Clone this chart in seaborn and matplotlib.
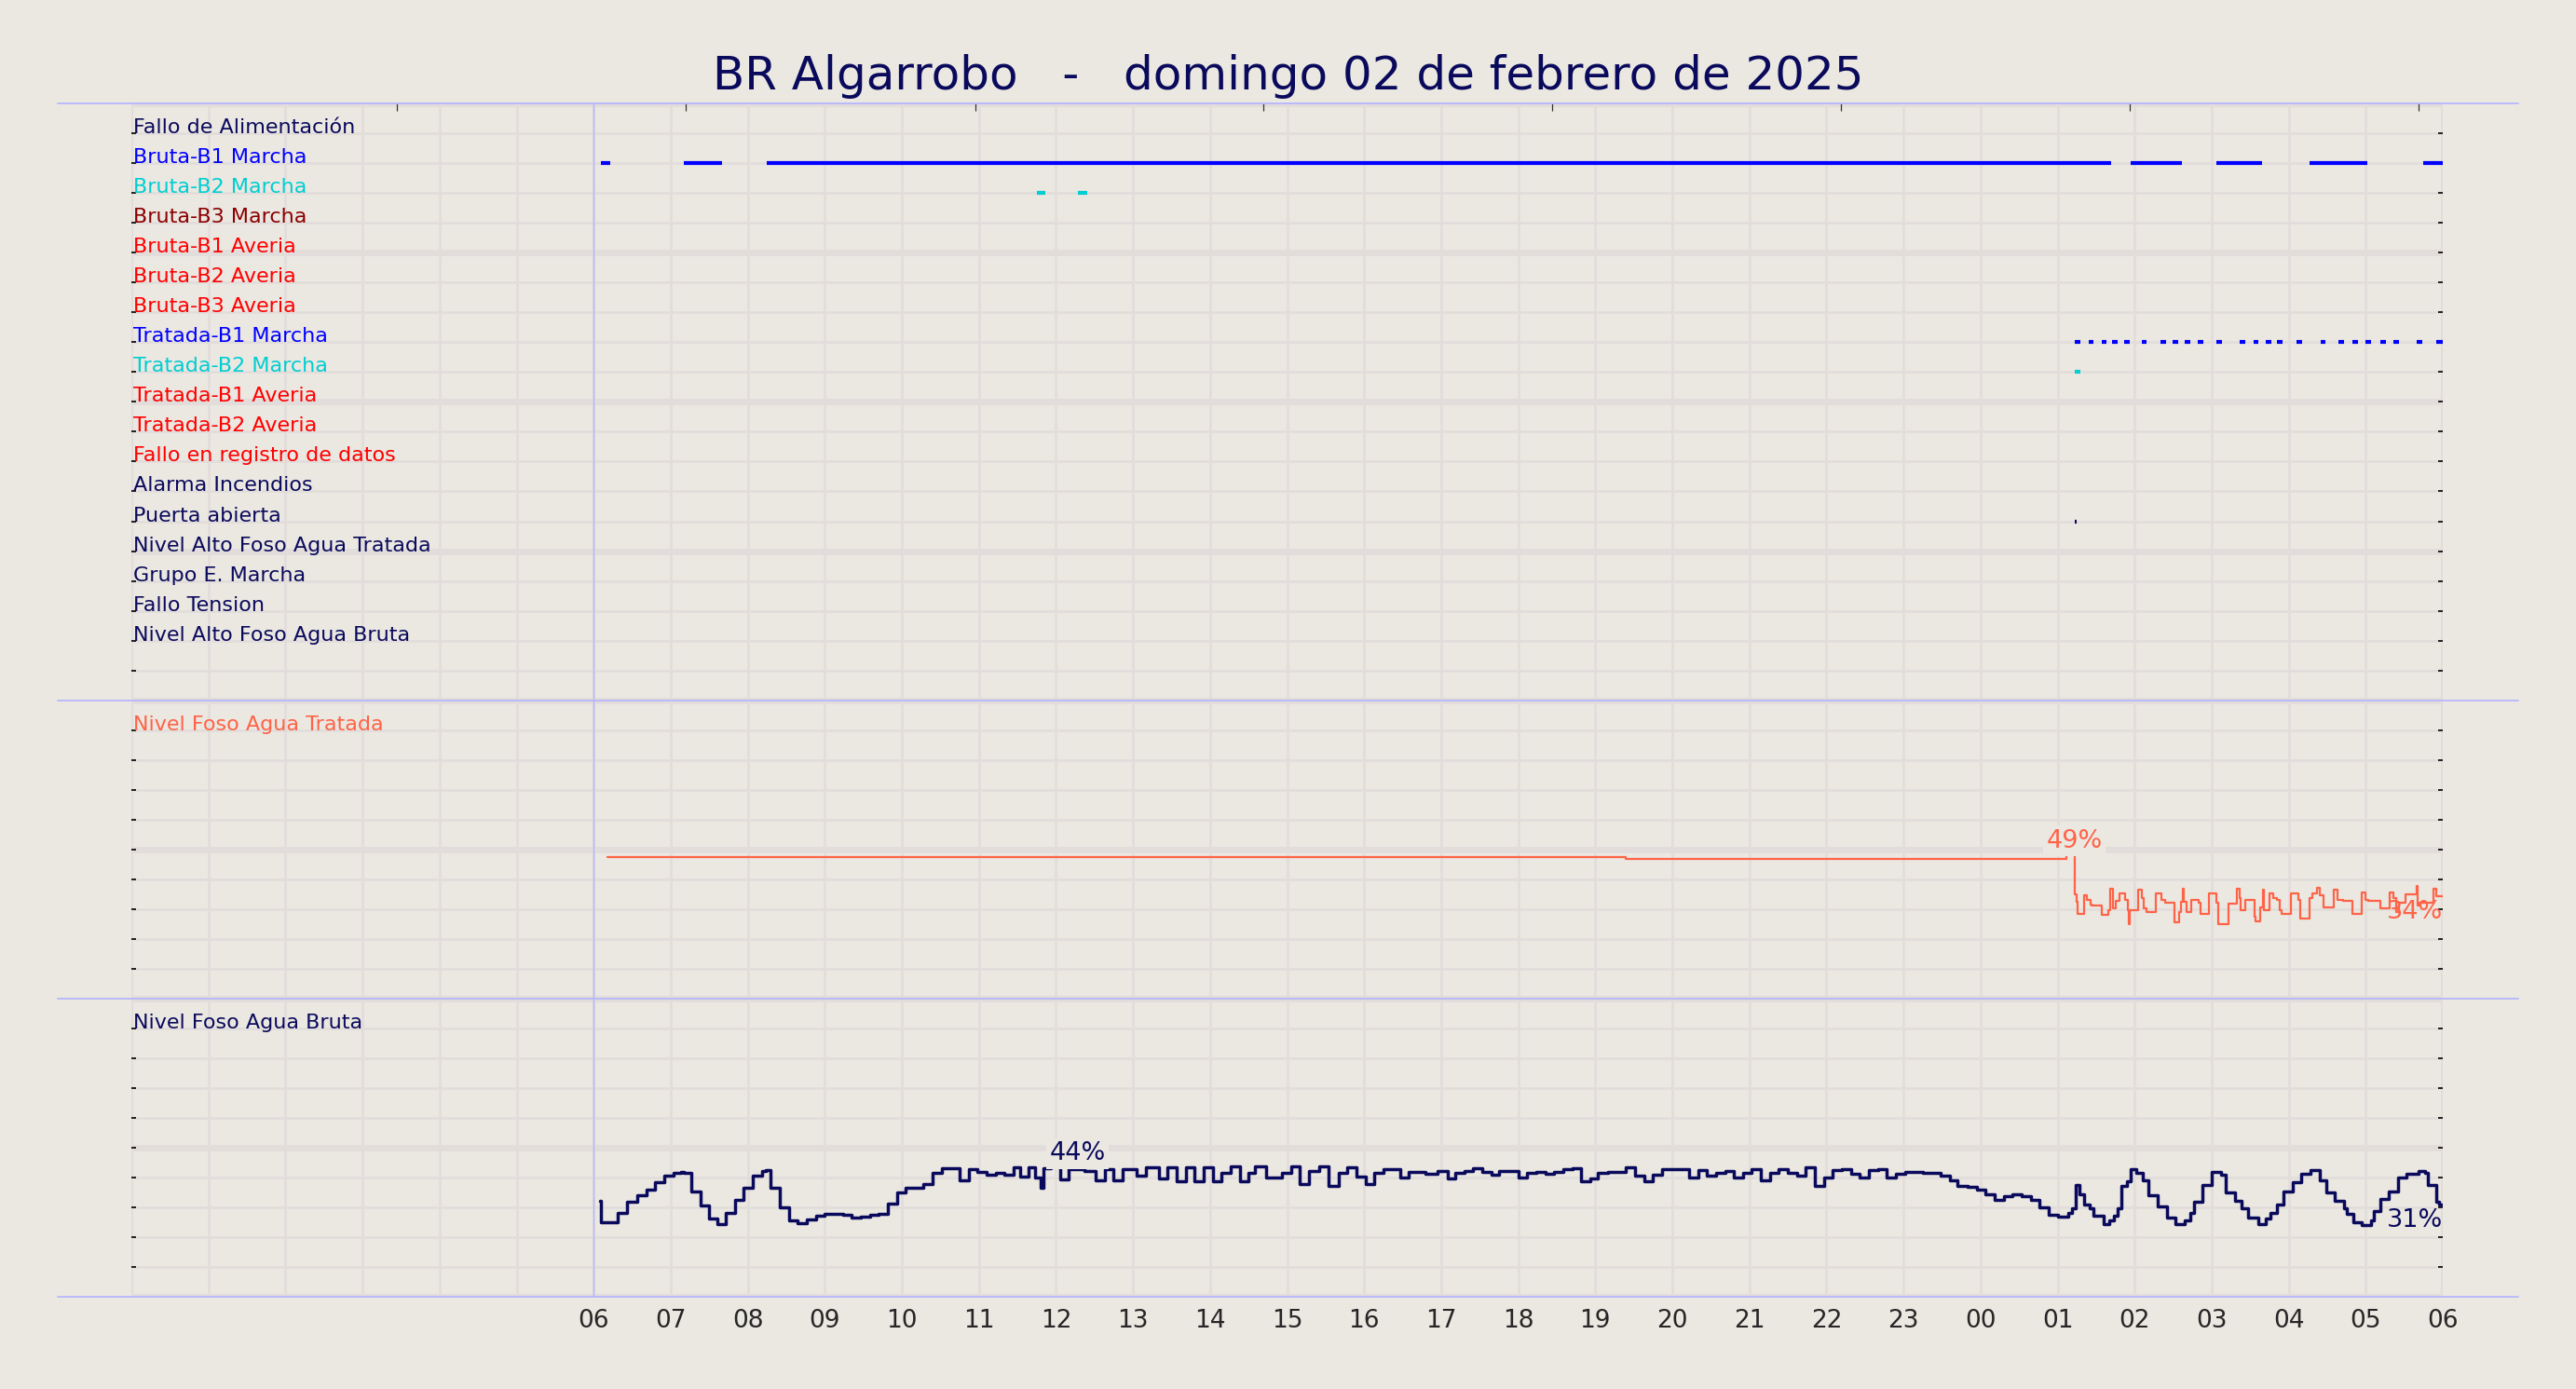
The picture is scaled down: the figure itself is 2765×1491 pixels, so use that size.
import numpy as np
import seaborn as sns
import matplotlib.pyplot as plt
from matplotlib.lines import Line2D

titulo = "BR Algarrobo   -   domingo 02 de febrero de 2025"

senales = ["Fallo de Alimentación", "Bruta-B1 Marcha", "Bruta-B2 Marcha", "Bruta-B3 Marcha",
           "Bruta-B1 Averia", "Bruta-B2 Averia", "Bruta-B3 Averia", "Tratada-B1 Marcha",
           "Tratada-B2 Marcha", "Tratada-B1 Averia", "Tratada-B2 Averia",
           "Fallo en registro de datos", "Alarma Incendios", "Puerta abierta",
           "Nivel Alto Foso Agua Tratada", "Grupo E. Marcha", "Fallo Tension",
           "Nivel Alto Foso Agua Bruta"]
colores_senal = ["#0a0a5c", "#0000ff", "#00ced1", "#8b0000", "#ff0000", "#ff0000", "#ff0000",
                 "#0000ff", "#00ced1", "#ff0000", "#ff0000", "#ff0000", "#0a0a5c", "#0a0a5c",
                 "#0a0a5c", "#0a0a5c", "#0a0a5c", "#0a0a5c"]

# tramos activos (horas desde 00:00, 24+ = dia siguiente)
bruta_b1_marcha = [(6.09, 6.22), (7.17, 7.67), (8.25, 25.69), (25.95, 26.61),
                   (27.06, 27.65), (28.27, 29.02), (29.74, 30.0)]
bruta_b2_marcha = [(11.75, 11.86), (12.29, 12.40)]
tratada_b1_marcha = [(25.22, 25.29), (25.40, 25.47), (25.57, 25.64), (25.71, 25.78),
                     (25.87, 25.94), (26.09, 26.16), (26.34, 26.41), (26.49, 26.56),
                     (26.65, 26.72), (26.82, 26.89), (27.06, 27.13), (27.36, 27.43),
                     (27.54, 27.61), (27.70, 27.77), (27.85, 27.92), (28.10, 28.17),
                     (28.41, 28.48), (28.65, 28.72), (28.83, 28.90), (29.00, 29.07),
                     (29.19, 29.26), (29.36, 29.43), (29.66, 29.73), (29.92, 30.0)]
tratada_b2_marcha = [(25.22, 25.29)]
puerta_abierta = [(25.22, 25.25)]

eventos = {"Bruta-B1 Marcha": bruta_b1_marcha, "Bruta-B2 Marcha": bruta_b2_marcha,
           "Tratada-B1 Marcha": tratada_b1_marcha, "Tratada-B2 Marcha": tratada_b2_marcha,
           "Puerta abierta": puerta_abierta}

horas = list(range(6, 31))
etiquetas_horas = ["06", "07", "08", "09", "10", "11", "12", "13", "14", "15", "16", "17", "18",
                   "19", "20", "21", "22", "23", "00", "01", "02", "03", "04", "05", "06"]
marcas_sup = [3.45, 7.2, 10.95, 14.69, 18.44, 22.19, 25.94, 29.69]

# niveles: minutos desde las 06:00, porcentaje
tratada_min = [11.0, 804.0, 1146.5, 1153.5, 1155.0, 1155.7, 1160.6, 1163.0, 1165.4, 1166.6,
               1174.4, 1179.2, 1181.1, 1183.0, 1185.0, 1188.4, 1192.7, 1194.4, 1195.6, 1196.4,
               1202.4, 1205.3, 1207.0, 1208.9, 1216.2, 1221.0, 1223.5, 1230.7, 1234.3, 1236.3,
               1237.5, 1238.5, 1240.4, 1244.1, 1250.1, 1251.3, 1258.1, 1263.4, 1265.1, 1273.0,
               1279.6, 1281.5, 1282.7, 1286.4, 1293.6, 1294.3, 1297.7, 1299.7, 1300.9, 1305.2,
               1308.1, 1310.5, 1313.0, 1314.2, 1321.4, 1327.5, 1328.7, 1336.0, 1338.4, 1342.0,
               1344.5, 1346.8, 1355.3, 1357.7, 1362.5, 1369.8, 1377.1, 1379.5, 1381.9, 1391.6,
               1398.8, 1401.3, 1403.7, 1406.1, 1410.9, 1419.4, 1420.1, 1421.8, 1432.7, 1435.1,
               1440.0]
tratada_pct = [47.4, 46.8, 48.8, 35.0, 32.4, 28.5, 34.7, 33.2, 31.6, 31.1,
               28.0, 29.6, 36.8, 30.2, 32.7, 35.2, 33.2, 29.6, 24.9, 29.6,
               36.6, 33.7, 30.2, 29.0, 35.2, 33.2, 32.2, 25.7, 29.0, 32.4,
               36.8, 32.4, 29.0, 33.2, 32.2, 28.5, 35.2, 32.2, 24.9, 31.9,
               36.8, 33.7, 29.6, 33.2, 27.4, 25.9, 30.6, 36.6, 29.6, 35.2,
               33.7, 33.2, 29.6, 28.5, 35.2, 33.2, 27.0, 33.7, 35.2, 37.3,
               34.7, 30.6, 36.6, 33.2, 32.7, 28.5, 35.7, 33.2, 32.7, 30.2,
               35.7, 33.7, 29.0, 32.2, 35.0, 37.8, 31.1, 32.2, 36.8, 34.4,
               34.4]

bruta_min = [5, 6, 19, 26, 34, 41, 48, 55, 62, 68,
             70, 76, 83, 90, 96, 103, 110, 117, 124, 131,
             134, 138, 145, 152, 159, 166, 173, 180, 194, 201,
             208, 215, 222, 229, 236, 243, 257, 264, 271, 285,
             292, 299, 306, 313, 320, 327, 332, 339, 344, 348,
             350, 356, 363, 370, 382, 391, 398, 405, 412, 423,
             430, 440, 447, 454, 461, 468, 475, 482, 489, 496,
             503, 510, 515, 524, 536, 543, 550, 557, 565, 572,
             580, 587, 594, 601, 608, 615, 628, 635, 648, 657,
             665, 671, 678, 685, 692, 699, 705, 720, 727, 734,
             741, 748, 755, 762, 769, 776, 782, 790, 797, 804,
             811, 818, 825, 832, 853, 860, 867, 874, 881, 888,
             895, 902, 909, 916, 923, 930, 937, 944, 951, 958,
             965, 972, 979, 986, 993, 1000, 1007, 1014, 1021, 1035,
             1049, 1056, 1062, 1070, 1077, 1084, 1091, 1098, 1105, 1112,
             1119, 1126, 1133, 1140, 1148, 1151, 1154, 1157, 1161, 1165,
             1168, 1176, 1180, 1184, 1187, 1190, 1194, 1197, 1201, 1206,
             1211, 1218, 1225, 1232, 1239, 1243, 1246, 1253, 1260, 1267,
             1271, 1278, 1283, 1288, 1296, 1302, 1306, 1311, 1316, 1323,
             1330, 1337, 1344, 1349, 1356, 1363, 1365, 1370, 1377, 1384,
             1386, 1391, 1398, 1405, 1412, 1421, 1426, 1428, 1435, 1437,
             1440]
bruta_pct = [32.2, 25.1, 28.3, 31.9, 34.0, 36.0, 38.4, 40.7, 41.7, 42.0,
             41.7, 35.5, 30.7, 26.4, 24.4, 28.3, 32.7, 36.6, 40.7, 42.2,
             42.6, 36.6, 30.1, 25.7, 24.7, 25.9, 27.2, 28.0, 27.6, 26.7,
             27.0, 27.5, 27.8, 31.2, 35.0, 36.6, 37.8, 41.7, 43.1, 39.1,
             42.8, 42.0, 41.0, 41.7, 41.0, 43.6, 40.5, 43.6, 40.2, 36.6,
             43.3, 44.0, 39.5, 42.8, 42.2, 39.1, 42.8, 39.1, 43.0, 40.7,
             43.6, 39.7, 43.6, 38.8, 43.6, 38.8, 43.6, 38.8, 41.7, 43.7,
             38.8, 41.7, 43.7, 39.9, 41.7, 43.7, 37.8, 42.2, 43.7, 37.1,
             41.7, 43.6, 40.5, 37.8, 41.7, 43.0, 39.9, 42.0, 41.2, 42.2,
             39.7, 41.7, 42.2, 43.3, 42.0, 40.9, 42.2, 39.9, 41.7, 41.9,
             41.4, 42.0, 43.0, 43.3, 38.8, 39.7, 41.7, 41.9, 42.0, 43.5,
             40.7, 38.9, 41.0, 42.8, 40.2, 42.5, 40.7, 41.7, 42.2, 39.9,
             41.7, 42.8, 39.1, 41.7, 43.0, 41.7, 40.7, 43.6, 37.4, 40.2,
             42.6, 43.0, 41.4, 40.0, 42.6, 43.0, 40.2, 41.2, 42.0, 41.7,
             40.7, 39.1, 37.4, 36.8, 36.0, 34.3, 32.6, 33.7, 34.5, 33.8,
             32.6, 30.1, 27.5, 27.0, 28.3, 29.6, 37.6, 34.5, 30.9, 29.8,
             27.2, 24.4, 25.7, 27.2, 29.8, 37.1, 38.8, 42.8, 41.7, 39.1,
             34.0, 30.4, 26.7, 24.4, 25.7, 28.3, 31.9, 37.6, 42.0, 41.0,
             35.0, 32.4, 29.8, 26.7, 24.4, 26.2, 28.3, 30.9, 35.5, 38.6,
             41.4, 42.5, 39.1, 35.0, 32.2, 29.8, 27.8, 25.0, 24.1, 25.7,
             28.8, 32.9, 35.5, 39.9, 41.4, 42.2, 41.7, 37.6, 31.9, 30.9,
             30.9]

assert len(tratada_min) == len(tratada_pct) and len(bruta_min) == len(bruta_pct)

BG = "#ebe7e1"
GRID = "#e2dddb"
NAVY = "#0a0a5c"
LAV = "#b3b3ff"
TOMATO = "#ff6347"

sns.set_style("white", rc={"figure.facecolor": BG, "axes.facecolor": BG, "axes.grid": False})
plt.rcParams["font.family"] = ["DejaVu Sans"]

fig = plt.figure(figsize=(27.65, 14.91), dpi=100)
gs = fig.add_gridspec(3, 1, height_ratios=[2, 1, 1], hspace=0,
                      left=0.051, right=0.9483, top=0.9255, bottom=0.0662)
ax_ev = fig.add_subplot(gs[0])
ax_tr = fig.add_subplot(gs[1], sharex=ax_ev)
ax_br = fig.add_subplot(gs[2], sharex=ax_ev)


def fondo(ax, tope, paso, cada_mayor):
    # rejilla dibujada a mano: fina cada paso, gruesa cada cada_mayor pasos
    for i, y in enumerate(np.arange(0, tope + paso / 2, paso)):
        ax.axhline(y, color=GRID, lw=5 if i % cada_mayor == 0 else 2, zorder=0)
    for h in range(31):
        ax.axvline(h, color=GRID, lw=3 if h in (0, 30) else 1.9, zorder=0)
    ax.axvline(6, color=LAV, lw=1.0, zorder=1)
    for s in ax.spines.values():
        s.set_visible(False)
    ax.tick_params(axis="y", direction="in", left=True, right=True, length=3.5, width=1.2,
                   color="black", labelleft=False, labelright=False)
    ax.tick_params(axis="x", length=0, labelbottom=False)


# panel de senales
fondo(ax_ev, 20, 1, 5)
ax_ev.set_ylim(20, 0)
ax_ev.set_yticks(range(1, 20))
for k, (nombre, col) in enumerate(zip(senales, colores_senal)):
    ax_ev.text(0.03, k + 1, nombre, color=col, fontsize=16, va="baseline", ha="left")
for nombre, tramos in eventos.items():
    k = senales.index(nombre)
    ax_ev.hlines([k + 1] * len(tramos), [a for a, b in tramos], [b for a, b in tramos],
                 colors=colores_senal[k], lw=3, capstyle="butt", zorder=3)

ax_top = ax_ev.twiny()
ax_top.set_xlim(0, 30)
ax_top.set_xticks(marcas_sup)
ax_top.tick_params(axis="x", direction="in", top=True, bottom=False, length=5.5, width=0.9,
                   color="#333333", labeltop=False, labelbottom=False)
for s in ax_top.spines.values():
    s.set_visible(False)
ax_top.grid(False)


def nivel(ax, mins, pct, color, lw, nombre, x_etq):
    fondo(ax, 100, 10, 5)
    t = 6 + np.asarray(mins) / 60
    sns.lineplot(x=t, y=pct, ax=ax, color=color, lw=lw, drawstyle="steps-post",
                 legend=False, zorder=3)
    ax.set_ylim(0, 100)
    ax.set_yticks(range(10, 100, 10))
    ax.set_xlabel("")
    ax.set_ylabel("")
    ax.text(0.03, 90, nombre, color=color, fontsize=16, va="baseline", ha="left")
    i = int(np.argmax(pct))
    ax.text(x_etq, pct[i], f"{pct[i]:.0f}%", color=color, fontsize=19.5, ha="center",
            va="bottom", zorder=5,
            bbox=dict(boxstyle="square,pad=0.12", fc=BG, ec="none"))
    ax.annotate(f"{pct[-1]:.0f}%", (30, pct[-1]), xytext=(0, -3), textcoords="offset points",
                color=color, fontsize=19.5, ha="right", va="top", zorder=5)


nivel(ax_tr, tratada_min, tratada_pct, TOMATO, 1.6, "Nivel Foso Agua Tratada", 25.22)
nivel(ax_br, bruta_min, bruta_pct, NAVY, 2.5, "Nivel Foso Agua Bruta", 12.28)

ax_br.set_xlim(0, 30)
ax_br.set_xticks(horas)
ax_br.set_xticklabels(etiquetas_horas, fontsize=19)
ax_br.tick_params(axis="x", labelbottom=True, length=0, pad=9)

# lineas azul claro entre paneles
ys = [ax_ev.get_position().y1, ax_ev.get_position().y0, ax_tr.get_position().y0,
      ax_br.get_position().y0]
for y in ys:
    fig.add_artist(Line2D([0.0223, 0.9777], [y, y], transform=fig.transFigure,
                          color=LAV, lw=1.2))

fig.text(0.5, 0.9452, titulo, ha="center", va="center", fontsize=36, color=NAVY)

fig.savefig("out.png", dpi=100, facecolor=BG)
